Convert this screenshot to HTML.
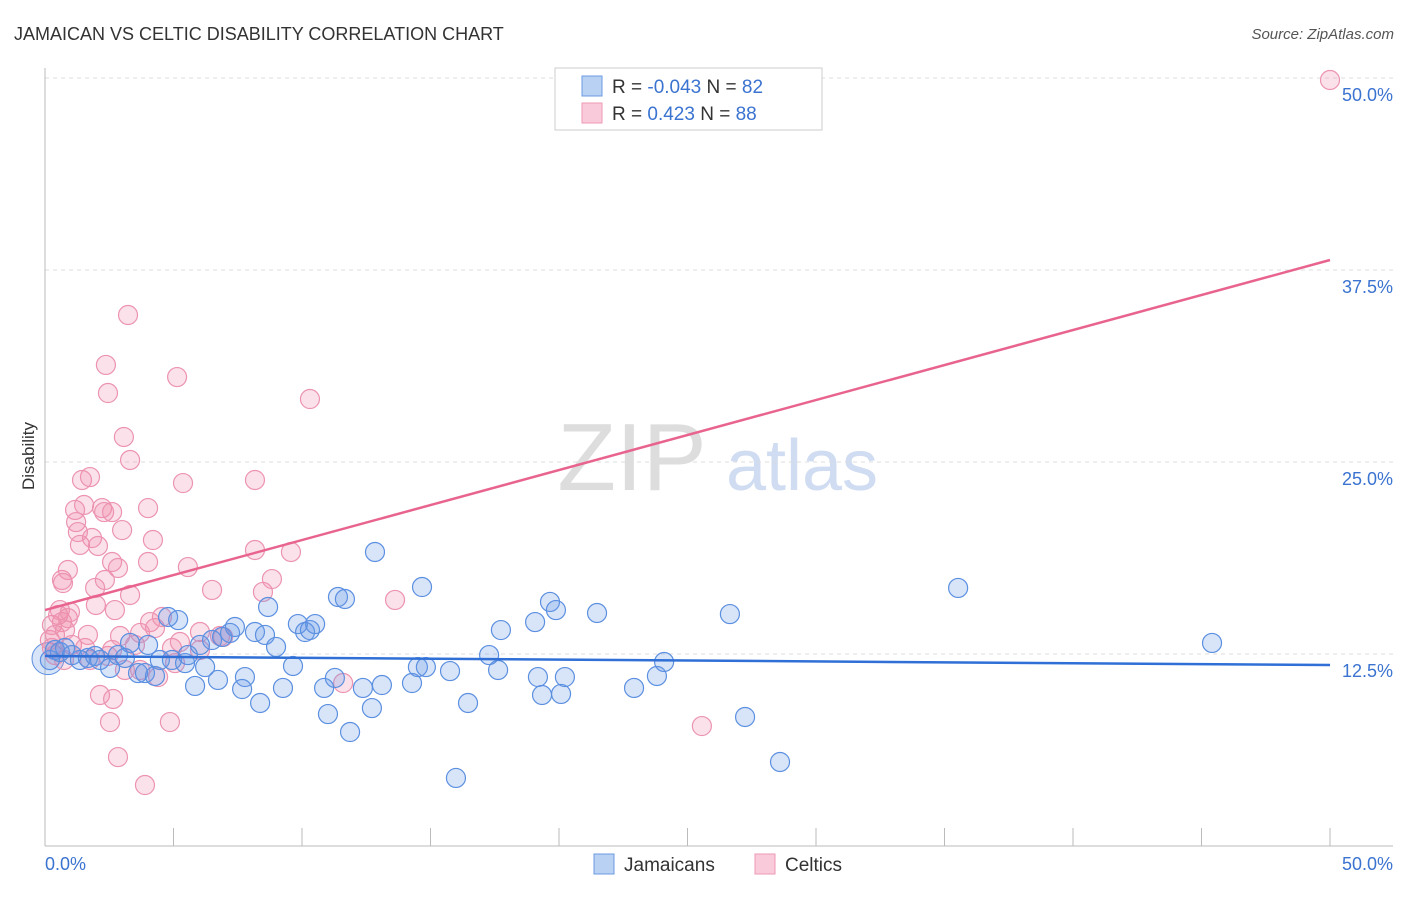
<!DOCTYPE html>
<html><head><meta charset="utf-8"><style>
body{margin:0;background:#fff;font-family:"Liberation Sans",sans-serif}
svg text{font-family:"Liberation Sans",sans-serif}
</style></head><body>
<svg id="chart" width="1406" height="892" xmlns="http://www.w3.org/2000/svg">
<text x="14" y="40" font-size="18" fill="#333">JAMAICAN VS CELTIC DISABILITY CORRELATION CHART</text>
<text x="1394" y="39" font-size="15" fill="#555" text-anchor="end" font-style="italic">Source: ZipAtlas.com</text>
<g>
<text x="632" y="490" font-size="96" fill="#ddd" font-family="Liberation Serif" text-anchor="middle">ZIP</text>
<text x="802" y="490" font-size="72" fill="#cfdcf1" text-anchor="middle">atlas</text>
</g>
<g id="grid"></g>
<g id="axes"></g>
<g id="marks"></g>
<g id="trends"></g>
<text transform="translate(34,456) rotate(-90)" font-size="17" fill="#333" text-anchor="middle">Disability</text>
<g>
<rect x="555" y="68" width="267" height="62" fill="#fff" stroke="#ccc"/>
<rect x="582" y="76" width="20" height="20" fill="#b9d2f4" stroke="#6b9be0"/>
<rect x="582" y="103" width="20" height="20" fill="#f9cad9" stroke="#ee9ab5"/>
<text x="612" y="93" font-size="19" fill="#333">R = <tspan fill="#3a73d0">-0.043</tspan>   N = <tspan fill="#3a73d0">82</tspan></text>
<text x="612" y="120" font-size="19" fill="#333">R =  <tspan fill="#3a73d0"> 0.423</tspan>   N = <tspan fill="#3a73d0">88</tspan></text>
</g>
<g>
<rect x="594" y="854" width="20" height="20" fill="#b9d2f4" stroke="#6b9be0"/>
<text x="624" y="871" font-size="19" fill="#333">Jamaicans</text>
<rect x="755" y="854" width="20" height="20" fill="#f9cad9" stroke="#ee9ab5"/>
<text x="785" y="871" font-size="19" fill="#333">Celtics</text>
</g>
</svg>
<script>
const yTicks=[12.5,25,37.5,50];
const yTickLabels=["12.5%","25.0%","37.5%","50.0%"];
const xTickLabels=["0.0%","50.0%"];
const blueX=[0.19,0.39,0.58,0.78,1.05,1.36,1.67,1.95,2.14,2.53,2.84,3.11,3.31,3.62,3.89,4.01,4.28,4.47,4.79,4.94,5.18,5.45,5.56,5.84,6.03,6.23,6.5,6.73,6.89,7.2,7.39,7.67,7.78,8.17,8.37,8.56,8.68,8.99,9.26,9.65,9.84,10.12,10.31,10.51,10.86,11.01,11.28,11.4,11.67,11.87,12.37,12.72,12.84,13.11,14.28,14.51,14.67,14.82,15.76,15.99,16.46,17.28,17.63,17.74,19.07,19.18,19.34,19.65,19.88,20.08,20.23,21.48,22.92,23.81,24.09,26.65,27.24,28.6,35.53,45.41];
const blueY=[12.1,12.76,12.63,12.89,12.43,12.11,12.24,12.37,12.11,11.59,12.43,12.24,13.22,11.26,11.26,13.09,11.07,12.11,14.91,12.11,14.71,11.91,12.43,10.42,13.09,11.65,13.41,10.81,13.61,13.87,14.26,10.22,11.0,13.93,9.31,13.74,15.56,12.96,10.29,11.72,14.45,13.93,14.06,14.45,10.29,8.59,10.94,16.21,16.08,7.42,10.29,8.98,19.14,10.48,10.61,11.65,16.86,11.65,11.39,4.43,9.31,12.43,11.46,14.06,14.58,11.0,9.83,15.89,15.36,9.9,11.0,15.17,10.29,11.07,11.98,15.1,8.4,5.47,16.8,13.22];
const pinkX=[0.19,0.27,0.39,0.51,0.58,0.66,0.78,0.89,0.97,1.05,1.17,1.21,1.28,1.36,1.44,1.52,1.67,1.75,1.83,1.95,1.98,2.06,2.14,2.22,2.3,2.45,2.53,2.61,2.61,2.65,2.72,2.84,2.84,2.92,3.0,3.07,3.11,3.23,3.31,3.31,3.5,3.7,3.89,4.01,4.01,4.09,4.2,4.28,4.4,4.55,4.86,4.94,5.06,5.14,5.25,5.37,5.56,6.03,6.5,6.81,8.17,8.17,8.48,8.83,9.57,10.31,11.6,13.62,25.56,50,2.37,2.45,2.33,0.66,0.89,0.27,0.39,0.74,1.75,2.61,3.7,6.03,6.93,0.7,1.56];
const pinkY=[13.41,14.39,13.74,15.04,15.36,14.58,14.06,14.84,15.23,13.09,21.88,21.09,20.44,19.6,23.83,22.2,13.74,24.02,20.05,16.8,15.69,19.53,9.83,22.0,21.74,12.37,8.07,21.74,18.49,9.57,15.36,18.1,5.79,13.67,20.57,26.63,11.46,34.57,16.34,25.13,13.09,13.87,3.97,18.49,22.0,14.58,19.92,14.19,11.0,14.91,8.07,12.89,11.91,30.53,13.28,23.63,18.16,12.76,16.67,13.67,23.83,19.27,16.54,17.38,19.14,29.1,10.61,16.02,7.81,49.87,31.32,29.49,17.32,17.32,17.97,12.89,12.43,12.11,12.11,12.76,11.46,13.93,13.61,17.12,12.89];
const blueTrend=[12.37,11.78];
const pinkTrend=[15.36,38.15];
const NS="http://www.w3.org/2000/svg";
const X=v=>45+v/50*1285, Y=v=>846-v*15.36;
function mk(tag,attrs,parent){const e=document.createElementNS(NS,tag);for(const k in attrs)e.setAttribute(k,attrs[k]);parent.appendChild(e);return e;}
const grid=document.getElementById('grid'),axes=document.getElementById('axes'),marks=document.getElementById('marks'),trends=document.getElementById('trends');
yTicks.forEach((t,i)=>{
 const l=mk('line',{x1:45,x2:1393,y1:Y(t),y2:Y(t),stroke:'#ddd','stroke-dasharray':'4,4'},grid);
 
 
 const tx=mk('text',{x:1393,y:Y(t)+23,'font-size':18,fill:'#3a73d0','text-anchor':'end'},axes);
 tx.textContent=yTickLabels[i];
 
 
});
const ya=mk('line',{x1:45,x2:45,y1:68,y2:846,stroke:'#bbb'},axes);


const xa=mk('line',{x1:45,x2:1393,y1:846,y2:846,stroke:'#bbb'},axes);


for(let k=0;k<=10;k++){
 const t=mk('line',{x1:X(k*5),x2:X(k*5),y1:828,y2:846,stroke:'#bbb'},axes);
 
 
}
[[0,'start',45],[50,'end',1393]].forEach((d,i)=>{
 const tx=mk('text',{x:d[2],y:870,'font-size':18,fill:'#3a73d0','text-anchor':d[1]},axes);
 tx.textContent=xTickLabels[i];
 
 
});
const big1=mk('circle',{cx:48,cy:Y(12.2),r:16,fill:'rgba(100,150,230,0.25)',stroke:'#5b8fe0'},marks);


function pts(xs,ys,fill,stroke,name){xs.forEach((x,i)=>{
 const c=mk('circle',{cx:X(x),cy:Y(ys[i]),r:9.5,fill:fill,stroke:stroke,'stroke-width':1.2},marks);
 
 
});}
pts(pinkX,pinkY,'rgba(240,140,170,0.25)','#ec93b0','celtics-point');
pts(blueX,blueY,'rgba(100,150,230,0.25)','#5b8fe0','jamaicans-point');
const bt=mk('line',{x1:X(0),x2:X(50),y1:Y(blueTrend[0]),y2:Y(blueTrend[1]),stroke:'#2f6fd6','stroke-width':2.5},trends);


const pt=mk('line',{x1:X(0),x2:X(50),y1:Y(pinkTrend[0]),y2:Y(pinkTrend[1]),stroke:'#e8648f','stroke-width':2.5},trends);


</script>
</body></html>
